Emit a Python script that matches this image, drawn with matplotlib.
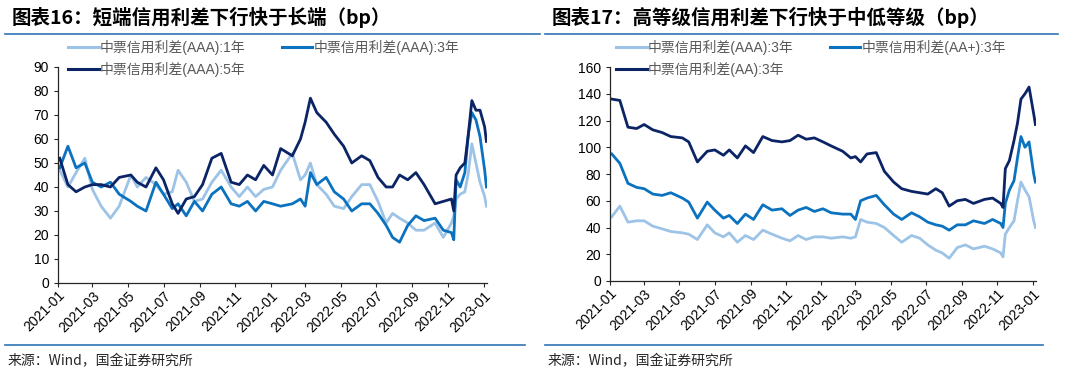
import matplotlib
matplotlib.use("Agg")
import matplotlib.pyplot as plt
import matplotlib.dates as mdates
import pandas as pd
from matplotlib.lines import Line2D

plt.rcParams['font.family'] = ['Liberation Sans', 'Noto Sans CJK SC']

# shared observation dates (both charts)
dates = pd.to_datetime([
    "2021-01-04", "2021-01-18", "2021-02-01", "2021-02-16", "2021-03-01", "2021-03-16",
    "2021-04-01", "2021-04-16", "2021-05-06", "2021-05-17", "2021-06-01", "2021-06-18",
    "2021-07-01", "2021-07-16", "2021-07-26", "2021-08-09", "2021-08-23", "2021-09-06",
    "2021-09-22", "2021-10-08", "2021-10-25", "2021-11-08", "2021-11-22", "2021-12-06",
    "2021-12-20", "2022-01-04", "2022-01-18", "2022-02-07", "2022-02-21", "2022-03-01",
    "2022-03-10", "2022-03-21", "2022-04-06", "2022-04-20", "2022-05-06", "2022-05-20",
    "2022-06-06", "2022-06-20", "2022-07-04", "2022-07-18", "2022-07-29", "2022-08-10",
    "2022-08-24", "2022-09-07", "2022-09-21", "2022-10-10", "2022-10-24", "2022-11-07",
    "2022-11-11", "2022-11-15", "2022-11-22", "2022-11-30", "2022-12-06", "2022-12-12",
    "2022-12-19", "2022-12-26", "2023-01-03", "2023-01-06",
])

# chart 16: AAA spreads by tenor (bp)
aaa_1y = [47, 40, 46, 52, 39, 32, 27, 32, 45, 40, 44, 41, 37, 38, 47, 42, 34, 35,
          42, 47, 40, 36, 40, 36, 39, 40, 47, 54, 43, 45, 50, 41, 37, 32, 31, 36,
          41, 41, 34, 25, 29, 27, 25, 22, 22, 25, 19, 25, 28, 35, 37, 38, 46, 58,
          50, 42, 36, 32]
aaa_3y = [48, 57, 48, 50, 42, 40, 42, 37, 34, 32, 30, 42, 37, 31, 33, 28, 34, 30,
          37, 40, 33, 32, 34, 30, 34, 33, 32, 33, 35, 32, 46, 41, 44, 38, 35, 30,
          33, 33, 29, 24, 19, 17, 24, 28, 26, 27, 22, 21, 18, 43, 40, 46, 62, 71,
          68, 61, 47, 40]
aaa_5y = [52, 41, 38, 40, 41, 41, 40, 44, 45, 42, 40, 48, 43, 33, 29, 35, 36, 41,
          52, 54, 42, 41, 45, 43, 49, 45, 56, 53, 60, 67, 77, 71, 67, 62, 57, 50,
          53, 51, 44, 40, 40, 45, 43, 46, 41, 33, 34, 35, 30, 45, 48, 50, 62, 76,
          72, 72, 65, 59]

# chart 17: 3-year spreads by rating (bp)
r3_aaa = [48, 56, 44, 45, 45, 41, 39, 37, 36, 35, 31, 42, 36, 33, 36, 29, 34, 31,
          38, 35, 32, 30, 34, 31, 33, 33, 32, 33, 32, 33, 46, 44, 43, 40, 34, 29,
          34, 32, 27, 23, 21, 17, 25, 27, 24, 26, 24, 21, 18, 35, 40, 45, 60, 74,
          68, 63, 45, 40]
r3_aap = [95, 88, 73, 70, 69, 65, 64, 66, 62, 59, 47, 59, 53, 47, 49, 43, 50, 46,
          57, 53, 54, 49, 53, 55, 52, 54, 51, 50, 50, 46, 60, 62, 64, 57, 50, 46,
          51, 48, 44, 42, 41, 38, 42, 42, 45, 43, 46, 43, 40, 58, 68, 75, 92, 108,
          100, 104, 80, 74]
r3_aa = [136, 135, 115, 114, 117, 113, 111, 108, 107, 104, 89, 97, 98, 94, 98, 92, 101, 96,
         108, 105, 104, 105, 109, 106, 107, 104, 101, 97, 92, 93, 89, 95, 96, 82, 74, 69,
         67, 66, 65, 69, 66, 56, 60, 61, 58, 61, 62, 58, 55, 84, 90, 105, 118, 136,
         140, 145, 125, 117]

c_light = "#9DC3E6"
c_mid = "#0A72BE"
c_dark = "#0B2466"
rule_blue = "#2E75B6"
txt_grey = "#595959"

fig = plt.figure(figsize=(10.8, 3.77), dpi=100)
W, H = 1080, 377


def px_axes(x0, y_top, x1, y_bot):
    return fig.add_axes([x0 / W, 1 - y_bot / H, (x1 - x0) / W, (y_bot - y_top) / H])


def style_axes(ax, ymax, ystep):
    ax.set_xlim(pd.Timestamp("2021-01-01"), pd.Timestamp("2023-01-07"))
    ax.set_ylim(0, ymax)
    ax.set_yticks(range(0, ymax + 1, ystep))
    ax.xaxis.set_major_locator(mdates.MonthLocator(bymonth=[1, 3, 5, 7, 9, 11]))
    ax.xaxis.set_major_formatter(mdates.DateFormatter("%Y-%m"))
    for s in ["top", "right"]:
        ax.spines[s].set_visible(False)
    for s in ["left", "bottom"]:
        ax.spines[s].set_color("#262626")
        ax.spines[s].set_linewidth(0.9)
    ax.tick_params(axis="both", direction="out", length=3, width=0.8,
                   colors="#262626", labelsize=10, labelcolor="black")
    ax.tick_params(axis="x", pad=1)
    for lab in ax.get_xticklabels():
        lab.set_rotation(45)
        lab.set_ha("right")
        lab.set_rotation_mode("anchor")


def add_legend(labels, colors, x, y):
    handles = [Line2D([], [], color=c, lw=2.2) for c in colors]
    # reorder so entries read row by row in two columns
    order = [0, 2, 1]
    leg = fig.legend([handles[i] for i in order], [labels[i] for i in order],
                     loc="upper left", bbox_to_anchor=(x / W, 1 - y / H), ncol=2,
                     frameon=False, fontsize=10, handlelength=2.2, handletextpad=0.1,
                     columnspacing=2.6, labelspacing=0.5, borderaxespad=0, borderpad=0)
    for t in leg.get_texts():
        t.set_color(txt_grey)


def add_frame_text(x0, x1, title, source):
    fig.text(x0 + 7 / W, 1 - 17 / H, title, fontsize=14, fontweight="bold",
             family=["Noto Sans CJK SC"], va="center", ha="left", color="black")
    fig.add_artist(Line2D([x0, x1], [1 - 34 / H, 1 - 34 / H], color=rule_blue, lw=1.2))
    fig.add_artist(Line2D([x0, x1 - 15 / W], [1 - 345 / H, 1 - 345 / H], color=rule_blue, lw=1.2))
    fig.text(x0 + 3 / W, 1 - 361 / H, source, fontsize=10,
             family=["Noto Sans CJK SC"], va="center", ha="left", color="#262626")


# left chart
ax1 = px_axes(58, 67, 487, 283)
ax1.plot(dates, aaa_1y, color=c_light, lw=2)
ax1.plot(dates, aaa_3y, color=c_mid, lw=2)
ax1.plot(dates, aaa_5y, color=c_dark, lw=2)
style_axes(ax1, 90, 10)
add_legend(["中票信用利差(AAA):1年", "中票信用利差(AAA):3年", "中票信用利差(AAA):5年"],
           [c_light, c_mid, c_dark], 68, 40)

# right chart
ax2 = px_axes(610, 67, 1036, 281)
ax2.plot(dates, r3_aaa, color=c_light, lw=2)
ax2.plot(dates, r3_aap, color=c_mid, lw=2)
ax2.plot(dates, r3_aa, color=c_dark, lw=2)
style_axes(ax2, 160, 20)
add_legend(["中票信用利差(AAA):3年", "中票信用利差(AA+):3年", "中票信用利差(AA):3年"],
           [c_light, c_mid, c_dark], 616, 40)

add_frame_text(5 / W, 540 / W, "图表16：短端信用利差下行快于长端（bp）", "来源：Wind，国金证券研究所")
add_frame_text(545 / W, 1058 / W, "图表17：高等级信用利差下行快于中低等级（bp）", "来源：Wind，国金证券研究所")

fig.savefig("out.png", dpi=100)
